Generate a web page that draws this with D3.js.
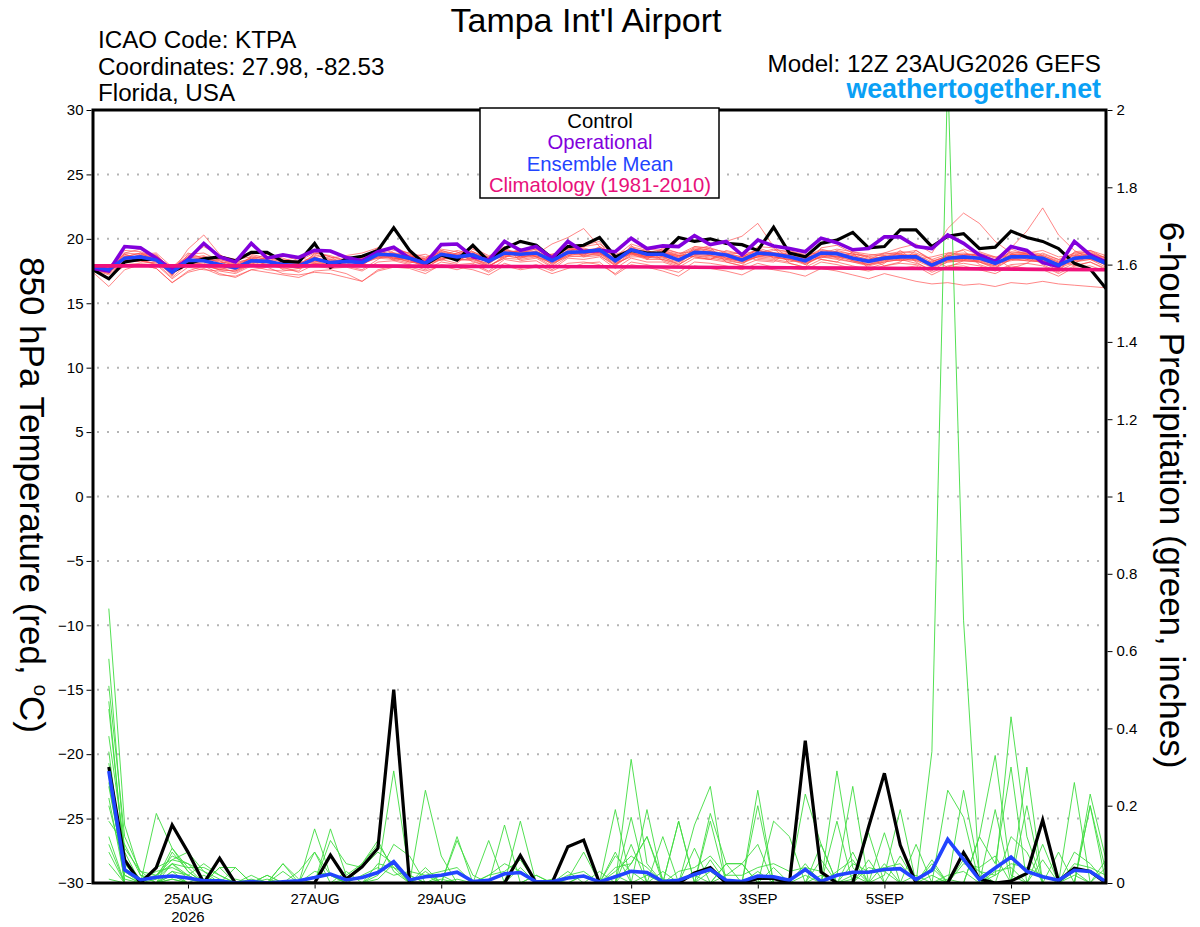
<!DOCTYPE html>
<html><head><meta charset="utf-8">
<script src="https://cdn.jsdelivr.net/npm/d3@7"></script>
<style>
body{margin:0;background:#fff;}
svg{display:block;font-family:"Liberation Sans",Arial,Helvetica,sans-serif;}
</style></head><body>
<svg id="chart" width="1200" height="927"></svg>
<script>
// ---------------- DATA ----------------
const startUTC = Date.UTC(2026, 7, 23, 12);   // 12Z 23AUG2026 (model run)
const stepHours = 6;

// 850 hPa temperature (deg C), 6-hourly from 12Z 23AUG to 12Z 08SEP (65 values)
const controlTemp = [17.6,16.9,18.2,18.4,18.4, 17.45,18.05,18.45,18.6,18.3, 18.95,18.95,18.25,18.2,19.65, 17.78,18.45,18.65,19.1,20.85, 19.1,18.0,18.75,18.35,19.5, 18.25,19.25,19.8,19.5,18.5, 19.4,19.5,20.1,18.6,19.1, 18.9,18.9,20.1,19.8,20.0, 19.65,19.55,19.1,20.9,18.9, 18.6,19.65,19.9,20.5,19.3, 19.4,20.7,20.7,19.4,20.2, 20.4,19.25,19.35,20.6,20.1, 19.8,19.25,18.1,17.65,16.15];
const operationalTemp = [17.7,17.5,19.4,19.3,18.5, 17.6,18.4,19.65,18.6,18.2, 19.65,18.5,18.75,18.55,19.1, 19.05,18.55,18.3,19.0,19.35, 18.5,18.1,19.55,19.6,18.6, 18.35,19.8,19.1,19.4,18.5, 19.8,19.0,19.1,19.0,20.05, 19.25,19.45,19.4,20.25,19.55, 19.8,18.75,19.9,19.45,19.25, 19.0,20.05,19.7,19.15,19.25, 20.15,20.15,19.4,19.25,20.3, 19.65,18.75,18.25,19.4,19.1, 18.15,17.85,19.8,18.75,18.2];
const meanTemp = [17.85,17.6,18.5,18.6,18.35, 17.4,18.35,18.3,18.0,17.75, 18.3,18.25,18.0,17.9,18.45, 18.15,18.25,18.15,18.8,18.75, 18.5,18.1,18.8,18.6,18.75, 18.25,18.9,18.8,18.9,18.3, 18.95,19.0,19.15,18.3,19.15, 18.8,18.8,18.35,18.95,18.9, 18.75,18.35,18.9,18.8,18.6, 18.3,18.9,18.85,18.5,18.25, 18.5,18.6,18.6,17.95,18.5, 18.6,18.5,18.1,18.6,18.6, 18.5,17.95,18.5,18.6,18.1];
// Climatology (1981-2010), daily at 12Z, 23AUG..08SEP (17 values)
const climoTemp = [17.9,17.9,17.9,17.9,17.9,17.88,17.86,17.85,17.83,17.81,17.78,17.76,17.73,17.7,17.67,17.63,17.6];

// Ensemble members, 850 hPa temperature (65 values each)
const memberTemp = [
 [17.7,17.3,18.9,19.2,18.6, 17.1,18.8,18.9,18.3,17.6, 18.7,18.4,17.6,17.5,18.9, 18.6,17.9,17.6,18.4,19.1, 18.9,17.8,18.4,18.1,19.2, 18.6,19.4,18.3,18.5,17.8, 18.6,19.5,19.8,18.0,18.7, 19.2,18.3,17.9,19.4,19.3, 18.2,17.9,19.4,19.3,18.1, 17.8,19.3,19.5,18.9,17.7, 18.1,19.1,18.2,17.5,18.9, 19.1,18.0,17.6,19.2,18.8, 18.0,17.4,19.0,19.1,18.5],
 [17.9,17.8,18.2,18.3,18.1, 17.0,18.1,18.0,17.6,17.5, 18.0,18.6,18.3,18.2,18.1, 17.8,18.6,18.5,19.3,18.4, 18.1,18.5,19.2,19.0,18.2, 17.9,18.5,19.2,19.3,18.7, 19.4,18.6,18.7,17.9,19.5, 18.4,19.3,18.9,18.6,18.4, 19.1,18.8,18.3,18.2,19.1, 18.7,18.4,18.2,19.0,18.6, 17.9,18.2,19.1,18.4,17.8, 18.3,19.0,18.6,17.7,18.1, 18.9,18.4,17.9,18.2,17.6],
 [17.4,16.3,17.6,18.0,17.7, 16.6,17.5,17.9,17.3,17.0, 17.6,17.4,17.2,17.0,17.5, 17.6,17.3,16.7,17.5,17.8, 17.7,17.3,18.0,17.8,17.6, 17.2,17.9,17.6,17.8,17.3, 17.7,18.1,18.2,17.2,18.0, 17.8,17.5,17.1,17.9,17.7, 17.5,17.2,17.8,17.6,17.4, 17.1,17.7,17.5,17.2,16.9, 17.3,17.0,16.7,16.5,16.6, 16.4,16.5,16.3,16.6,16.5, 16.7,16.5,16.4,16.3,16.2],
 [17.8,17.9,18.8,18.4,18.7, 17.6,18.2,18.6,18.4,18.1, 18.5,17.9,18.3,18.6,18.2, 18.4,18.0,18.7,19.1,18.3, 18.6,18.8,18.3,18.9,19.0, 18.4,18.6,19.1,18.6,18.8, 19.2,18.7,19.4,18.7,18.9, 18.6,19.1,18.7,18.8,19.3, 18.9,18.6,19.2,18.5,18.8, 18.6,18.5,19.1,18.8,18.7, 18.9,18.8,18.4,18.6,18.9, 18.7,18.9,18.5,19.3,20.6, 22.4,20.3,19.1,18.4,18.7],
 [17.6,17.5,18.3,18.8,18.9, 17.8,18.9,18.5,17.9,17.7, 18.1,18.3,18.1,17.8,18.6, 18.0,18.4,18.6,19.0,19.4, 18.8,18.4,19.0,18.3,18.5, 18.0,19.1,18.9,19.2,18.6, 19.3,19.2,18.8,18.5,19.3, 18.9,18.6,18.3,19.2,18.7, 18.5,18.3,19.3,18.9,18.7, 18.2,19.0,18.5,18.7,18.4, 18.9,19.3,19.6,18.9,20.8, 22.0,21.2,19.8,18.9,18.4, 18.2,17.8,18.3,18.9,18.5],
 [17.8,17.6,18.6,18.9,18.3, 17.4,19.2,20.3,18.8,18.0, 18.4,18.8,18.5,18.1,18.3, 17.9,18.1,18.4,18.6,18.9, 18.3,17.9,18.6,18.9,19.3, 18.7,19.0,18.6,18.8,19.6, 20.1,20.8,19.4,18.6,18.9, 18.5,18.9,18.7,18.6,18.4, 18.8,18.9,18.5,18.4,18.2, 18.5,18.8,19.0,18.3,18.0, 18.4,18.5,18.8,17.9,18.3, 18.5,18.2,17.9,18.8,18.9, 18.6,18.1,18.8,18.5,18.0],
 [17.7,17.4,18.4,18.2,18.5, 17.3,18.0,17.9,17.6,17.5, 18.2,17.9,17.8,17.4,18.0, 17.9,18.5,18.3,18.7,18.6, 18.4,17.7,18.5,18.4,18.3, 17.8,18.7,18.5,18.9,18.0, 18.7,18.6,19.0,17.9,18.8, 18.4,18.4,18.1,19.1,19.5, 19.8,20.2,21.2,19.4,18.5, 18.1,18.6,18.4,18.2,17.9, 18.2,18.4,18.1,17.6,18.2, 18.3,18.2,17.7,18.4,18.3, 18.2,17.5,18.1,18.7,17.9],
 [17.9,17.7,18.7,18.5,18.2, 17.2,18.5,18.7,18.1,18.3, 18.8,18.5,18.2,18.3,18.9, 18.7,18.3,17.9,18.9,18.5, 18.2,18.3,19.1,18.7,18.4, 18.1,18.8,19.2,18.6,17.9, 18.9,18.8,19.3,18.1,19.4, 19.1,18.6,18.0,18.7,18.5, 18.3,18.1,18.7,19.1,19.0, 18.6,19.2,18.9,18.4,18.3, 18.7,18.3,18.5,17.8,18.4, 18.8,18.7,18.3,19.0,18.9, 18.7,18.3,18.9,18.8,18.3],
 [17.8,17.9,18.4,18.7,18.8, 17.5,18.3,18.1,17.8,17.4, 18.0,18.0,17.7,17.8,18.5, 18.3,18.0,18.1,18.5,18.8, 18.7,18.2,18.9,18.5,18.9, 18.3,19.2,18.9,19.0,18.4, 19.1,19.3,18.9,18.2,19.0, 18.7,19.0,18.7,19.3,19.1, 18.5,18.2,18.6,18.9,18.8, 18.0,18.7,18.6,18.9,18.5, 18.6,18.9,18.3,18.2,18.7, 18.5,18.4,18.0,18.7,18.8, 18.3,17.9,18.6,18.9,18.4],
 [17.6,17.2,18.1,18.4,18.0, 16.9,17.8,17.6,17.5,17.3, 17.9,17.6,17.5,17.7,17.9, 17.7,17.8,17.5,18.2,18.3, 18.0,17.6,18.2,18.0,18.1, 17.5,18.4,18.2,18.3,17.6, 18.5,18.4,18.6,17.7,18.5, 18.2,18.2,17.8,18.5,18.4, 18.2,17.9,18.4,18.3,18.1, 17.8,18.4,18.2,17.9,17.6, 17.9,18.1,18.0,17.4,17.9, 18.1,17.9,17.5,18.0,18.1, 17.9,17.3,17.9,18.2,17.7],
 [17.9,17.8,18.9,18.8,18.5, 17.7,18.7,18.5,18.2,18.0, 18.5,18.1,18.2,18.0,18.7, 18.5,18.7,18.9,19.3,18.9, 18.8,18.5,19.1,18.8,19.0, 18.5,19.0,19.0,19.2,18.5, 19.3,19.1,19.3,18.6,19.6, 19.2,19.1,18.8,19.4,19.2, 19.0,18.8,19.1,18.9,18.9, 18.6,19.1,19.0,18.8,18.6, 18.8,19.0,18.9,18.4,18.8, 18.9,18.7,18.4,18.9,19.0, 18.8,18.4,18.9,19.0,18.5],
 [17.7,17.5,18.0,18.1,18.2, 17.5,18.1,18.3,18.4,18.0, 18.1,18.3,18.4,18.1,18.2, 18.2,18.0,18.4,18.6,18.5, 18.4,17.9,18.6,18.8,18.6, 18.3,18.7,18.5,18.7,18.1, 18.8,18.8,18.9,18.4,18.8, 18.5,18.6,18.5,18.8,18.7, 18.6,18.2,18.8,18.6,18.4, 18.1,18.9,18.6,18.3,18.0, 18.3,18.5,18.4,17.9,18.3, 18.4,18.3,17.9,18.5,18.4, 18.3,17.8,18.4,18.5,18.0],
 [17.5,17.0,17.9,18.0,17.7, 16.6,17.4,17.7,17.2,17.1, 17.6,17.8,17.3,17.2,17.4, 17.3,17.0,16.7,17.6,17.9, 17.8,17.5,17.9,17.6,18.0, 17.4,18.1,17.7,18.0,17.5, 18.1,18.2,18.0,17.3,18.2, 18.0,17.7,17.4,18.2,18.1, 17.9,17.6,18.1,17.8,17.7, 17.6,18.2,18.0,17.7,17.5, 17.8,17.7,17.9,17.2,17.8, 17.9,17.6,17.3,17.9,17.7, 17.6,17.1,17.8,17.9,17.5],
 [17.8,17.6,19.1,19.0,18.6, 17.8,18.6,19.4,18.7,18.4, 18.6,18.4,18.0,18.5,19.0, 18.6,18.3,18.6,18.9,19.2, 18.9,18.6,18.7,19.1,18.8, 18.6,18.9,18.7,18.8,18.8, 19.0,19.4,19.6,18.8,19.2, 18.9,19.2,18.9,19.0,18.9, 18.7,18.5,18.9,19.2,19.0, 18.8,18.9,19.2,19.0,18.8, 18.7,18.9,19.1,18.3,18.6, 19.2,18.8,18.6,18.6,18.9, 19.1,18.6,18.7,19.1,18.7],
 [17.7,17.4,18.6,18.3,18.0, 17.6,18.3,18.0,17.7,17.9, 18.3,18.0,18.1,18.2,18.1, 18.0,18.3,18.0,18.7,18.6, 18.2,18.0,18.4,18.6,18.5, 17.9,18.6,18.9,18.6,18.2, 18.7,18.9,18.7,18.0,18.9, 18.7,18.5,18.2,18.8,18.7, 18.4,18.3,18.6,18.7,18.3, 18.2,18.6,18.7,18.3,18.1, 18.4,18.3,18.5,18.0,18.5, 18.3,18.3,18.1,18.3,18.5, 18.4,18.1,18.3,18.4,18.0],
 [17.9,17.7,18.3,18.6,18.7, 17.6,18.5,18.2,17.9,17.7, 18.6,18.2,17.9,17.8,18.6, 18.2,18.5,18.5,18.8,18.6, 18.4,18.3,18.7,18.5,18.6, 18.2,18.8,19.1,18.9,18.4, 19.0,18.9,19.2,18.4,18.9, 18.6,18.7,18.3,19.1,19.0, 18.7,18.5,19.0,18.7,18.5, 18.4,18.8,18.6,18.6,18.3, 18.6,18.5,18.7,18.1,18.6, 18.7,18.6,18.2,18.6,18.7, 18.5,18.0,18.6,18.7,18.2],
 [17.8,17.5,18.5,18.7,18.3, 17.2,18.6,18.4,18.3,17.9, 18.2,18.6,18.3,18.0,18.3, 18.3,18.2,18.2,18.9,18.9, 18.6,18.4,18.9,18.3,18.8, 18.5,18.9,18.6,19.1,18.3, 18.9,18.9,19.0,18.5,19.2, 18.9,18.9,18.6,18.9,18.8, 18.9,18.4,18.7,18.8,18.7, 18.5,19.0,18.8,18.6,18.2, 18.5,18.7,18.5,18.1,18.4, 18.6,18.5,18.0,18.8,18.6, 18.6,18.2,18.5,18.6,18.2],
 [17.6,17.3,18.2,18.5,18.4, 17.3,18.1,17.8,17.9,17.6, 18.0,17.9,17.9,17.7,18.1, 18.1,17.9,18.0,18.6,18.5, 18.3,18.0,18.5,18.4,18.4, 17.9,18.5,18.4,18.6,18.1, 18.6,18.7,18.8,18.1,18.6, 18.6,18.4,18.0,18.7,18.6, 18.4,18.1,18.6,18.5,18.4, 18.0,18.6,18.5,18.2,18.0, 18.2,18.4,18.3,17.8,18.2, 18.3,18.2,17.8,18.4,18.3, 18.2,17.7,18.2,18.4,17.8],
 [18.0,17.9,18.6,18.9,18.6, 17.7,18.3,18.6,18.5,18.2, 18.4,18.4,18.0,18.0,18.8, 18.4,18.3,18.3,19.1,18.7, 18.7,18.4,19.0,18.7,18.9, 18.4,19.1,18.9,19.0,18.6, 19.2,19.1,19.2,18.5,19.3, 19.0,18.9,18.6,19.2,19.1, 18.8,18.6,19.1,18.9,18.7, 18.5,19.0,18.9,18.7,18.4, 18.6,18.8,18.8,18.2,18.7, 18.8,18.7,18.3,18.8,18.8, 18.7,18.2,18.7,18.8,18.3],
 [17.7,17.7,18.8,18.5,18.3, 17.5,18.2,18.0,17.6,17.9, 18.4,18.0,17.9,18.1,18.6, 18.0,18.3,18.5,18.5,18.4, 18.7,18.3,18.6,18.4,18.9, 18.1,19.0,18.6,18.7,18.5, 18.8,19.2,18.9,18.2,18.9, 18.6,19.0,18.5,18.8,19.0, 18.5,18.6,18.8,18.6,18.4, 18.4,18.7,18.9,18.4,18.3, 18.3,18.7,18.5,18.1,18.3, 18.4,18.6,18.2,18.4,18.7, 18.3,18.1,18.4,18.5,18.2]
];

// 6-hour precipitation (inches), 18Z 23AUG .. 12Z 08SEP (64 values)
const controlPrecip = [0.30,0.06,0,0.04,0.15,0.08,0,0.064, 0,0,0,0,0,0,0.072,0.01, 0.042,0.09,0.50,0,0,0,0,0, 0,0,0.071,0,0,0.094,0.111,0, 0,0,0,0,0,0.026,0.04,0, 0,0.012,0.012,0,0.368,0.028,0,0, 0.145,0.284,0.098,0,0,0,0.079,0.01, 0,0.005,0.025,0.163,0.005,0.038,0.03,0];
const meanPrecip = [0.29,0.034,0.008,0.015,0.018,0.013,0.006,0.006, 0,0.004,0,0.003,0.006,0.014,0.023,0.008, 0.014,0.027,0.055,0.008,0.016,0.02,0.028,0.004, 0.007,0.024,0.027,0.003,0.003,0.013,0.018,0.003, 0.016,0.03,0.027,0.004,0.007,0.022,0.035,0.007, 0.004,0.018,0.016,0.007,0.035,0.004,0.02,0.028, 0.028,0.035,0.037,0.009,0.033,0.113,0.061,0.009, 0.039,0.067,0.03,0.016,0.007,0.033,0.03,0.003];
const memberPrecip = [
 [0.71,0.15,0.02,0.01,0.05,0.02,0,0, 0,0,0.01,0,0,0.14,0.02,0, 0,0.03,0.29,0.02,0,0,0.01,0, 0,0,0,0,0,0.01,0.08,0, 0,0.32,0.05,0,0,0.02,0,0, 0,0.03,0,0,0.05,0,0.29,0.04, 0,0,0,0.02,0,0.01,0,0, 0.02,0.43,0.12,0,0,0.03,0,0],
 [0.58,0.08,0,0.18,0.09,0.03,0,0.04, 0,0,0,0.05,0,0,0.14,0.02, 0.05,0.11,0.03,0,0.24,0.07,0,0, 0,0,0.16,0,0,0,0,0.03, 0,0,0.19,0,0.16,0,0.03,0, 0,0,0.16,0.12,0,0,0.02,0.25, 0,0.02,0.19,0,0,0,0.24,0.03, 0,0,0.30,0,0,0,0.23,0.06],
 [0.51,0.12,0.03,0.02,0.06,0.05,0.01,0, 0.04,0,0,0,0.03,0.08,0,0, 0,0.02,0.10,0.07,0,0,0.12,0, 0.11,0,0,0,0,0,0.02,0, 0.19,0,0,0.03,0,0.15,0.25,0, 0,0.24,0,0,0.02,0,0,0.01, 0.13,0,0,0.10,0,0,0,0.12, 0.05,0.30,0,0,0.08,0,0,0],
 [0.47,0.05,0.01,0.03,0.04,0.02,0.05,0.02, 0,0.02,0,0,0,0,0.11,0.05, 0.04,0.08,0.05,0,0.03,0,0.11,0.02, 0,0.15,0,0,0.01,0,0,0, 0,0.17,0,0,0,0,0.18,0.05, 0,0,0,0.01,0.23,0.10,0,0, 0,0.13,0,0,0.34,2.1,0.68,0.02, 0,0,0,0.10,0,0,0.2,0],
 [0.34,0.02,0,0.01,0.09,0.04,0,0, 0,0,0,0,0,0.08,0.02,0, 0,0.01,0.05,0,0,0.01,0,0, 0,0,0,0.02,0,0,0,0, 0,0.05,0.12,0,0,0.09,0,0.05, 0.05,0,0,0,0,0,0,0, 0,0,0,0,0,0.24,0.17,0, 0.19,0,0.20,0,0,0,0,0],
 [0.30,0,0,0.04,0.06,0.08,0.03,0, 0,0,0.02,0,0,0,0,0.01, 0.05,0.10,0.04,0.02,0,0,0,0, 0,0,0,0,0,0.03,0,0, 0.08,0,0,0,0.16,0,0,0, 0,0,0,0,0,0,0.16,0, 0,0,0,0,0,0,0,0.12, 0.33,0.02,0,0,0,0.26,0,0],
 [0.25,0.03,0,0,0.02,0,0,0, 0,0,0,0,0,0,0,0, 0,0,0,0,0.02,0,0,0, 0,0,0,0,0,0,0,0, 0.02,0,0,0,0,0,0,0, 0,0,0,0,0,0.1,0,0, 0,0,0,0,0,0,0,0, 0,0,0,0,0,0,0,0.06],
 [0.16,0.10,0.02,0,0.03,0,0.02,0, 0.01,0,0,0,0,0,0,0, 0,0,0,0,0,0,0,0, 0,0,0,0,0,0,0,0, 0,0,0,0,0,0,0,0, 0,0,0,0,0,0,0,0, 0,0,0,0,0,0,0,0, 0,0,0,0,0,0,0,0],
 [0.10,0,0,0,0.01,0,0,0.04, 0.04,0,0,0,0,0,0,0, 0,0,0,0,0,0.02,0,0, 0,0,0,0,0,0,0.02,0, 0,0,0.02,0,0,0,0.16,0, 0,0,0,0,0,0.02,0,0, 0.04,0.03,0,0,0.02,0,0,0, 0,0,0,0,0,0,0,0],
 [0.01,0,0,0,0,0,0,0, 0,0,0,0,0,0,0,0, 0,0,0,0,0,0,0,0, 0,0,0,0,0,0,0,0, 0,0,0,0,0,0,0,0, 0,0.2,0,0,0,0,0,0, 0,0,0,0,0,0,0,0, 0,0,0,0,0,0,0,0],
 [0.45,0.06,0.01,0.02,0.07,0.05,0.03,0.01, 0,0.01,0,0.03,0,0,0,0.03, 0,0.05,0.04,0,0.04,0,0,0, 0.02,0.05,0.03,0,0,0,0,0, 0.04,0.05,0.12,0.01,0,0,0.06,0, 0,0,0,0,0,0,0,0, 0,0.05,0,0,0.06,0,0,0, 0,0,0,0,0,0,0.2,0.03],
 [0.28,0,0,0.02,0.05,0.01,0,0, 0,0,0,0.05,0.01,0,0,0, 0,0,0,0,0,0,0,0, 0,0,0.04,0,0,0,0,0, 0.07,0.03,0,0.12,0,0,0,0.02, 0.05,0.1,0,0,0,0.06,0,0.08, 0,0,0.07,0,0,0,0.05,0.04, 0.07,0,0,0,0,0.08,0.05,0],
 [0.20,0.04,0,0,0.03,0.02,0,0, 0,0,0,0,0,0,0,0, 0,0,0,0,0,0,0,0, 0,0,0,0.02,0,0,0,0, 0,0.1,0,0,0,0,0,0, 0,0,0,0,0,0,0.03,0.06, 0,0,0,0,0,0.02,0.03,0, 0,0.12,0.08,0,0,0,0,0],
 [0.05,0,0,0,0,0,0,0, 0,0,0,0,0,0,0,0, 0,0,0,0,0,0,0,0, 0,0,0,0,0,0,0,0, 0,0,0,0,0,0,0,0, 0,0,0,0,0,0,0,0, 0,0,0,0,0,0,0,0, 0,0,0,0,0,0,0,0],
 [0.38,0.09,0.03,0,0.05,0.04,0.04,0.02, 0,0,0,0,0,0.03,0.02,0, 0.02,0.04,0.02,0.03,0.02,0.03,0.04,0, 0.02,0.03,0.06,0,0,0.02,0.03,0, 0.03,0.07,0.04,0,0.03,0.04,0.07,0.02, 0.02,0.04,0.05,0.03,0.04,0.03,0,0.05, 0.03,0.04,0.05,0,0,0,0.06,0.03, 0.02,0.05,0.04,0.02,0,0.05,0.04,0.02],
 [0.22,0.01,0,0,0,0,0,0, 0,0,0,0,0,0,0,0, 0,0,0,0,0,0,0,0, 0,0,0,0,0,0,0,0, 0,0,0,0,0,0,0,0.05, 0.05,0,0.04,0,0,0,0,0, 0.06,0,0,0,0.04,0,0,0, 0,0,0,0.06,0,0,0,0.04],
 [0.12,0,0,0,0.01,0,0,0, 0,0,0,0,0,0,0,0, 0,0,0,0,0,0,0,0, 0,0,0,0,0,0,0,0, 0,0,0,0,0,0,0,0, 0,0,0,0,0,0,0,0, 0,0,0,0,0,0,0,0, 0,0,0,0,0,0,0,0],
 [0.31,0.05,0,0,0.08,0.03,0,0, 0,0,0.02,0,0,0,0,0, 0,0,0,0,0,0,0,0, 0,0,0,0,0,0,0,0, 0,0,0,0,0,0,0,0, 0,0,0,0,0,0,0,0.02, 0,0,0,0,0.05,0,0,0, 0.03,0.04,0,0,0,0.02,0,0],
 [0.26,0.02,0,0,0.02,0,0,0, 0,0,0,0,0,0,0,0, 0,0,0,0,0,0,0,0, 0,0,0,0,0,0,0,0, 0,0,0,0,0,0,0,0, 0,0,0,0,0,0,0,0, 0,0,0,0,0,0,0,0, 0,0,0,0,0,0,0,0],
 [0.08,0,0,0,0,0,0,0, 0,0,0,0,0,0,0,0, 0,0,0,0,0,0,0,0, 0,0,0,0,0,0,0,0, 0,0,0,0,0,0,0,0, 0,0,0,0,0,0,0,0, 0,0,0,0,0,0,0,0, 0,0,0,0,0,0,0,0]
];

// Axis ticks
const tempTicks = [-30,-25,-20,-15,-10,-5,0,5,10,15,20,25,30];
const precipTicks = [0,0.2,0.4,0.6,0.8,1,1.2,1.4,1.6,1.8,2];
const precipTickLabels = ["0","0.2","0.4","0.6","0.8","1","1.2","1.4","1.6","1.8","2"];
const dateTicks = ["2026-08-25","2026-08-27","2026-08-29","2026-09-01","2026-09-03","2026-09-05","2026-09-07"];
const dateTickLabels = ["25AUG","27AUG","29AUG","1SEP","3SEP","5SEP","7SEP"];
const yearLabel = "2026";
const legendItems = ["Control","Operational","Ensemble Mean","Climatology (1981-2010)"];

// ---------------- DRAW ----------------
const svg = d3.select("#chart");
const P = {left: 93, right: 1106, top: 110, bottom: 883};
const timeAt = (i, hrs) => new Date(startUTC + i * hrs * 3600e3);
const x = d3.scaleUtc().domain([timeAt(0, stepHours), timeAt(controlTemp.length - 1, stepHours)]).range([P.left, P.right]);
const yT = d3.scaleLinear().domain([-30, 30]).range([P.bottom, P.top]);
const yP = d3.scaleLinear().domain([0, 2]).range([P.bottom, P.top]);

svg.append("rect").attr("width", 1200).attr("height", 927).attr("fill", "#fff");

svg.append("defs").append("clipPath").attr("id", "plotclip")
  .append("rect").attr("x", P.left).attr("y", P.top).attr("width", P.right - P.left).attr("height", P.bottom - P.top);

// grid
svg.append("g").selectAll("line").data(tempTicks.filter(v => v > -30 && v < 30)).join("line")
  .attr("x1", P.left + 4).attr("x2", P.right).attr("y1", d => yT(d)).attr("y2", d => yT(d))
  .attr("stroke", "#b4b4b4").attr("stroke-width", 2).attr("stroke-dasharray", "2,8");

const plot = svg.append("g").attr("clip-path", "url(#plotclip)");
const tLine = d3.line().x((d, i) => x(timeAt(i, stepHours))).y(d => yT(d));
const pLine = d3.line().x((d, i) => x(timeAt(i + 1, stepHours))).y(d => yP(d));
const cLine = d3.line().x((d, i) => x(timeAt(i, 24))).y(d => yT(d));

plot.append("g").selectAll("path").data(memberTemp).join("path")
  .attr("d", tLine).attr("fill", "none").attr("stroke", "#ff4a4a").attr("stroke-opacity", 0.75).attr("stroke-width", 0.9);
plot.append("g").selectAll("path").data(memberPrecip).join("path")
  .attr("d", pLine).attr("fill", "none").attr("stroke", "#3fdc3f").attr("stroke-width", 0.9);

const thick = (data, gen, color, w) => plot.append("path").datum(data).attr("d", gen)
  .attr("fill", "none").attr("stroke", color).attr("stroke-width", w).attr("stroke-linejoin", "miter");
thick(controlTemp, tLine, "#000", 3.2);
thick(controlPrecip, pLine, "#000", 3.2);
thick(operationalTemp, tLine, "#8200dc", 3.6);
thick(meanTemp, tLine, "#2244ff", 3.6);
thick(meanPrecip, pLine, "#2244ff", 3.6);
thick(climoTemp, cLine, "#f0107a", 3.6);

// frame
svg.append("rect").attr("x", P.left).attr("y", P.top).attr("width", P.right - P.left).attr("height", P.bottom - P.top)
  .attr("fill", "none").attr("stroke", "#000").attr("stroke-width", 3);

// axes
const axL = svg.append("g").attr("transform", `translate(${P.left - 1.5},0)`)
  .call(d3.axisLeft(yT).tickValues(tempTicks).tickSize(5).tickPadding(3).tickFormat(d3.format("d")));
const axR = svg.append("g").attr("transform", `translate(${P.right + 1.5},0)`)
  .call(d3.axisRight(yP).tickValues(precipTicks).tickSize(5).tickPadding(4).tickFormat((d, i) => precipTickLabels[i]));
const axB = svg.append("g").attr("transform", `translate(0,${P.bottom + 1.5})`)
  .call(d3.axisBottom(x).tickValues(dateTicks.map(s => new Date(s + "T00:00:00Z"))).tickSize(4).tickPadding(5).tickFormat((d, i) => dateTickLabels[i]));
[axL, axR, axB].forEach(a => {
  a.select(".domain").remove();
  a.selectAll("text").attr("font-size", 15).attr("fill", "#000").attr("font-family", "'Liberation Sans', Arial, sans-serif");
  a.selectAll("line").attr("stroke", "#000");
});
svg.append("text").attr("x", x(new Date(dateTicks[0] + "T00:00:00Z"))).attr("y", 922)
  .attr("text-anchor", "middle").attr("font-size", 15).text(yearLabel);

// axis titles
svg.append("text").attr("transform", "translate(20,495) rotate(90)").attr("text-anchor", "middle")
  .attr("font-size", 35).call(t => {
    t.append("tspan").text("850 hPa Temperature (red, ");
    t.append("tspan").attr("font-size", 21).attr("dy", -14).text("o");
    t.append("tspan").attr("dy", 14).text("C)");
  });
svg.append("text").attr("transform", "translate(1160,495) rotate(90)").attr("text-anchor", "middle")
  .attr("font-size", 35).text("6-hour Precipitation (green, inches)");

// header
svg.append("text").attr("x", 586).attr("y", 32).attr("text-anchor", "middle").attr("font-size", 34).text("Tampa Int'l Airport");
const info = ["ICAO Code: KTPA", "Coordinates: 27.98, -82.53", "Florida, USA"];
svg.append("g").selectAll("text").data(info).join("text")
  .attr("x", 98).attr("y", (d, i) => 48 + i * 26.5).attr("font-size", 24.2).text(d => d);
svg.append("text").attr("x", 1101).attr("y", 72).attr("text-anchor", "end").attr("font-size", 24.2).text("Model: 12Z 23AUG2026 GEFS");
svg.append("text").attr("x", 1101).attr("y", 98).attr("text-anchor", "end").attr("font-size", 26.8)
  .attr("font-weight", "bold").attr("fill", "#0aa0f5").text("weathertogether.net");

// legend
const legColors = ["#000", "#8200dc", "#2244ff", "#e8107a"];
svg.append("rect").attr("x", 480).attr("y", 108).attr("width", 239).attr("height", 90)
  .attr("fill", "#fff").attr("stroke", "#000").attr("stroke-width", 1.5);
svg.append("g").selectAll("text").data(legendItems).join("text")
  .attr("x", 600).attr("y", (d, i) => 128 + i * 21.3).attr("text-anchor", "middle")
  .attr("font-size", 20.3).attr("fill", (d, i) => legColors[i]).text(d => d);
</script>
</body></html>
